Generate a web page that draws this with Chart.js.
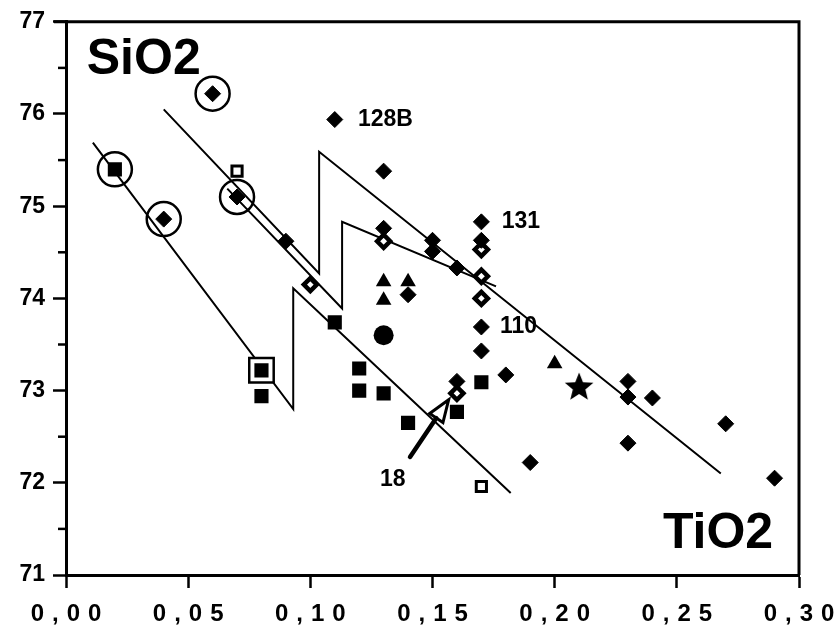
<!DOCTYPE html>
<html>
<head>
<meta charset="utf-8">
<title>SiO2 - TiO2</title>
<script src="https://cdn.jsdelivr.net/npm/chart.js@4.4.0/dist/chart.umd.min.js"></script>
<style>
  html, body { margin: 0; padding: 0; background: #fff; }
</style>
</head>
<body>
<canvas id="myChart" width="837" height="628"></canvas>
<script>
// values (TiO2 on x, SiO2 on y, wt%)
const xTickLabels = ['0,00', '0,05', '0,10', '0,15', '0,20', '0,25', '0,30'];
const yTickLabels = ['71', '72', '73', '74', '75', '76', '77'];

const filledDiamondX = [0.04, 0.06, 0.07, 0.09, 0.11, 0.13, 0.13, 0.15, 0.15, 0.16, 0.17, 0.17, 0.17, 0.17, 0.14, 0.16, 0.18, 0.23, 0.23, 0.24, 0.27, 0.23, 0.19, 0.29];
const filledDiamondY = [74.86, 76.22, 75.10, 74.62, 75.94, 75.38, 74.76, 74.63, 74.51, 74.33, 74.83, 74.63, 73.69, 73.43, 74.04, 73.10, 73.17, 73.10, 72.93, 72.92, 72.64, 72.43, 72.22, 72.05];

const openDiamondX = [0.10, 0.13, 0.17, 0.17, 0.17, 0.16];
const openDiamondY = [74.15, 74.62, 74.53, 74.24, 74.00, 72.97];

const filledSquareX = [0.02, 0.08, 0.08, 0.11, 0.12, 0.12, 0.13, 0.14, 0.16, 0.17];
const filledSquareY = [75.40, 73.22, 72.94, 73.74, 73.24, 73.00, 72.97, 72.65, 72.77, 73.09];

const openSquareX = [0.07, 0.17];
const openSquareY = [75.38, 71.96];

const triangleX = [0.13, 0.13, 0.14, 0.20];
const triangleY = [74.18, 73.98, 74.18, 73.29];

const dotX = [0.13];
const dotY = [73.60];

const starX = [0.21];
const starY = [73.05];

// circled and boxed samples
const ringX = [0.02, 0.04, 0.06, 0.07];
const ringY = [75.40, 74.86, 76.22, 75.10];
const boxX = [0.08];
const boxY = [73.22];

// the three zig-zag trend lines
const lineAX = [0.011, 0.093, 0.093, 0.182];
const lineAY = [75.69, 72.80, 74.11, 71.89];
const lineBX = [0.040, 0.1036, 0.1036, 0.268];
const lineBY = [76.05, 74.27, 75.59, 72.10];
const lineCX = [0.066, 0.113, 0.113, 0.176];
const lineCY = [75.19, 73.89, 74.83, 74.13];

// sample labels and axis names
const noteTexts = ['128B', '131', '110', '18'];
const noteX = [0.1195, 0.1783, 0.1776, 0.1285];
const noteY = [75.94, 74.83, 73.69, 72.03];
const axisNames = ['SiO2', 'TiO2'];
const axisNameX = [0.0085, 0.2443];
const axisNameY = [76.436, 71.293];

// arrow pointing at sample 18
const arrowX = [0.1408, 0.1566];
const arrowY = [72.28, 72.90];

const FONT = "'Liberation Sans', Arial, Helvetica, sans-serif";

function toPoints(xs, ys) {
    var pts = [];
    for (let i = 0; i < xs.length; i++) {
        pts.push({x: xs[i], y: ys[i]});
    }
    return pts;
}

function makeStar(size) {
    var c = document.createElement('canvas');
    c.width = size;
    c.height = size;
    var g = c.getContext('2d');
    g.fillStyle = '#000';
    g.beginPath();
    for (let i = 0; i < 10; i++) {
        var r = i % 2 === 0 ? size / 2 : size / 2 * 0.44;
        var a = -Math.PI / 2 + i * Math.PI / 5;
        g.lineTo(size / 2 + r * Math.cos(a), size / 2 + 1.5 + r * Math.sin(a));
    }
    g.closePath();
    g.fill();
    return c;
}

function lineSet(xs, ys) {
    return {
        data: toPoints(xs, ys),
        showLine: true,
        borderColor: '#000',
        borderWidth: 2,
        pointRadius: 0,
        fill: false,
        order: 10
    };
}

function markSet(xs, ys, style, radius, bg, bw, order) {
    return {
        data: toPoints(xs, ys),
        pointStyle: style,
        pointRadius: radius,
        pointHoverRadius: radius,
        backgroundColor: bg,
        borderColor: '#000',
        borderWidth: bw,
        order: order
    };
}

// frame, minor ticks, x labels, notes and the arrow
const extras = {
    id: 'extras',
    afterDatasetsDraw(chart) {
        var ctx = chart.ctx;
        var xs = chart.scales.x, ys = chart.scales.y;
        var x0 = xs.getPixelForValue(arrowX[0]), y0 = ys.getPixelForValue(arrowY[0]);
        var x1 = xs.getPixelForValue(arrowX[1]), y1 = ys.getPixelForValue(arrowY[1]);
        var ang = Math.atan2(y1 - y0, x1 - x0);
        var headLen = 22, headW = 8;
        var bx = x1 - headLen * Math.cos(ang), by = y1 - headLen * Math.sin(ang);
        ctx.save();
        ctx.strokeStyle = '#000';
        ctx.lineCap = 'round';
        ctx.lineWidth = 4.5;
        ctx.beginPath();
        ctx.moveTo(x0, y0);
        ctx.lineTo(bx, by);
        ctx.stroke();
        ctx.lineWidth = 3;
        ctx.lineJoin = 'miter';
        ctx.beginPath();
        ctx.moveTo(x1, y1);
        ctx.lineTo(bx + headW * Math.sin(ang), by - headW * Math.cos(ang));
        ctx.lineTo(bx - headW * Math.sin(ang), by + headW * Math.cos(ang));
        ctx.closePath();
        ctx.stroke();
        ctx.restore();
    },
    afterDraw(chart) {
        var ctx = chart.ctx;
        var area = chart.chartArea;
        var xs = chart.scales.x, ys = chart.scales.y;
        ctx.save();
        ctx.strokeStyle = '#000';
        ctx.lineWidth = 3;
        ctx.beginPath();
        ctx.moveTo(area.left - 12, area.top);
        ctx.lineTo(area.right, area.top);
        ctx.lineTo(area.right, area.bottom);
        ctx.stroke();

        // short ticks half way between the SiO2 values
        ctx.lineWidth = 2.5;
        ys.ticks.forEach(t => {
            var v = t.value + 0.5;
            if (v < ys.max) {
                var py = ys.getPixelForValue(v);
                ctx.beginPath();
                ctx.moveTo(area.left - 8, py);
                ctx.lineTo(area.left, py);
                ctx.stroke();
            }
        });

        // spaced-out x tick labels
        ctx.fillStyle = '#000';
        ctx.font = 'bold 24px ' + FONT;
        ctx.letterSpacing = '8px';
        ctx.textAlign = 'left';
        ctx.textBaseline = 'alphabetic';
        xs.ticks.forEach((t, i) => {
            var txt = xTickLabels[i];
            var w = ctx.measureText(txt).width - 8;
            ctx.fillText(txt, xs.getPixelForValue(t.value) - w / 2, area.bottom + 46);
        });
        ctx.letterSpacing = '0px';

        ctx.font = 'bold 23px ' + FONT;
        ctx.textBaseline = 'middle';
        for (let i = 0; i < noteTexts.length; i++) {
            ctx.fillText(noteTexts[i], xs.getPixelForValue(noteX[i]), ys.getPixelForValue(noteY[i]));
        }

        ctx.font = 'bold 50px ' + FONT;
        ctx.textBaseline = 'alphabetic';
        for (let i = 0; i < axisNames.length; i++) {
            ctx.fillText(axisNames[i], xs.getPixelForValue(axisNameX[i]), ys.getPixelForValue(axisNameY[i]));
        }
        ctx.restore();
    }
};

var ctx = document.getElementById('myChart').getContext('2d');
var myChart = new Chart(ctx, {
    type: 'scatter',
    data: {
        datasets: [
            lineSet(lineAX, lineAY),
            lineSet(lineBX, lineBY),
            lineSet(lineCX, lineCY),
            markSet(boxX, boxY, 'rect', 17.3, '#fff', 2.5, 6),
            markSet(ringX, ringY, 'circle', 17, 'rgba(0,0,0,0)', 2.5, 5),
            markSet(filledSquareX, filledSquareY, 'rect', 10, '#000', 0, 2),
            markSet(openSquareX, openSquareY, 'rect', 7.2, '#fff', 3, 2),
            markSet(filledDiamondX, filledDiamondY, 'rectRot', 8, '#000', 1, 2),
            markSet(openDiamondX, openDiamondY, 'rectRot', 6.5, '#fff', 4.5, 2),
            markSet(triangleX, triangleY, 'triangle', 9, '#000', 0, 2),
            markSet(dotX, dotY, 'circle', 10, '#000', 0, 2),
            markSet(starX, starY, makeStar(30), 15, '#000', 0, 2)
        ]
    },
    options: {
        responsive: false,
        animation: false,
        events: [],
        layout: { padding: { top: 20, right: 38, bottom: 0, left: 0 } },
        plugins: {
            legend: { display: false },
            tooltip: { enabled: false }
        },
        scales: {
            x: {
                type: 'linear',
                min: 0,
                max: 0.30,
                ticks: {
                    stepSize: 0.05,
                    color: 'rgba(0,0,0,0)',
                    font: { family: FONT, size: 24, weight: 'bold' },
                    callback: (v, i) => xTickLabels[i]
                },
                grid: { drawOnChartArea: false, drawTicks: true, tickLength: 13, tickWidth: 2.5, tickColor: '#000' },
                border: { color: '#000', width: 3 },
                afterFit: s => { s.height = 53; }
            },
            y: {
                min: 71,
                max: 77,
                ticks: {
                    stepSize: 1,
                    color: '#000',
                    padding: 8,
                    font: { family: FONT, size: 23, weight: 'bold' },
                    callback: (v, i) => yTickLabels[i]
                },
                grid: { drawOnChartArea: false, drawTicks: true, tickLength: 13, tickWidth: 2.5, tickColor: '#000' },
                border: { color: '#000', width: 3 },
                afterFit: s => { s.width = 66; }
            }
        }
    },
    plugins: [extras]
});
</script>
</body>
</html>
